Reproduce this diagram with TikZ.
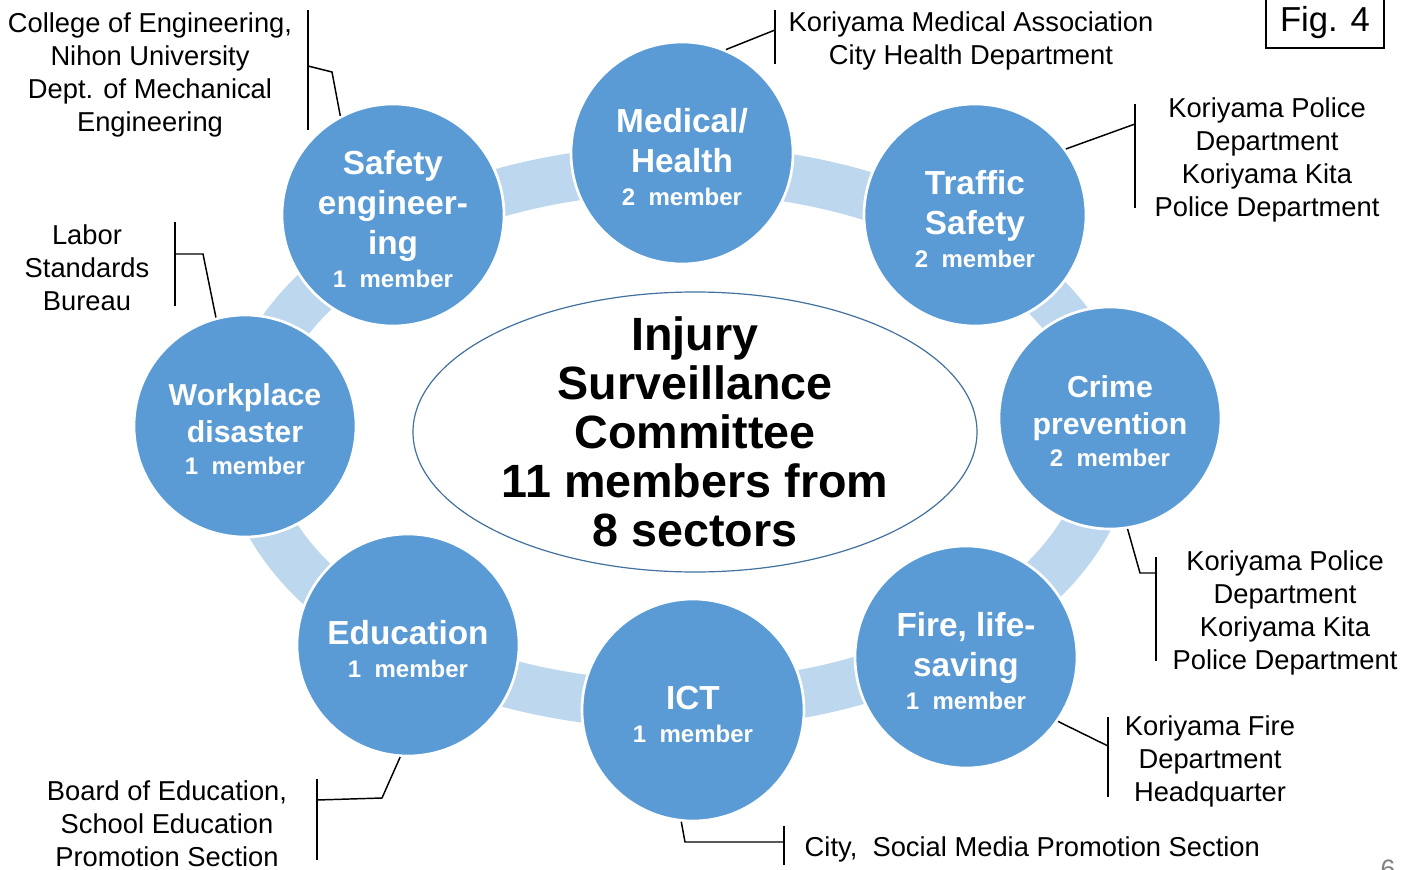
\documentclass[tikz,border=0pt]{standalone}
\usepackage{fontspec}
\setmainfont{Liberation Sans}
\usepackage{tikz}
\usetikzlibrary{shapes.geometric}
\definecolor{sectorBlue}{RGB}{91,155,213}
\definecolor{ringBlue}{RGB}{189,215,238}
\definecolor{rimBlue}{RGB}{65,113,156}
\tikzstyle{sectorStyle}=[shape = circle, minimum size = 166.5pt, inner sep = 0pt, fill = sectorBlue, draw = white, line width = 2pt, text = white, align = center, font = \bfseries\fontsize{25}{30}\selectfont]
\tikzstyle{smallSector}=[sectorStyle, font = \bfseries\fontsize{22.7}{27.5}\selectfont]
\tikzstyle{noteStyle}=[align = center, font = \fontsize{20.5}{24.75}\selectfont]
\tikzstyle{barStyle}=[line width = 1.6pt]
\tikzstyle{leadStyle}=[line width = 1.1pt]
\newcommand{\mem}[1]{{\fontsize{18}{21}\selectfont #1~~member}}

\begin{document}
\begin{tikzpicture}[x = 0.75pt, y = -0.75pt]
\useasboundingbox (0,0) rectangle (1417,870);
\tikzstyle{ringStyle}=[draw = ringBlue, line width = 36pt]
\draw[ringStyle] (678,437) ellipse [x radius = 324pt, y radius = 201pt];
\node[sectorStyle] (v0) at (393,215) {\\[-6pt]Safety\\engineer-\\ing\\[-5pt]\mem{1}};
\node[sectorStyle] (v1) at (682,153) {\\[-6pt]Medical/\\Health\\[-5pt]\mem{2}};
\node[sectorStyle] (v2) at (975,215) {\\[-6pt]Traffic\\Safety\\[-5pt]\mem{2}};
\node[smallSector] (v3) at (1110,418) {\\[-6pt]Crime\\prevention\\[-3pt]\mem{2}};
\node[sectorStyle] (v4) at (966,657) {\\[-6pt]Fire, life-\\saving\\[-5pt]\mem{1}};
\node[sectorStyle] (v5) at (693,710) {\\[-6pt]ICT\\[-5pt]\mem{1}};
\node[sectorStyle] (v6) at (408,645) {\\[-6pt]Education\\[-5pt]\mem{1}};
\node[smallSector] (v7) at (245,426) {\\[-6pt]Workplace\\disaster\\[-3pt]\mem{1}};
\node[shape = ellipse, draw = rimBlue, fill = white, line width = 0.9pt, minimum width = 423pt, minimum height = 210pt, inner sep = -40pt, align = center, font = \bfseries\fontsize{35}{36.75}\selectfont] (v8) at (695,432) {Injury\\Surveillance\\Committee\\11 members from\\8 sectors};
% notes
\node[noteStyle] (t0) at (150,75) {College of Engineering,\\Nihon University\\Dept. of Mechanical\\Engineering};
\node[noteStyle] (t1) at (971,41) {Koriyama Medical Association\\City Health Department};
\node[noteStyle] (t2) at (1267,160) {Koriyama Police\\Department\\Koriyama Kita\\Police Department};
\node[noteStyle] (t3) at (1285,613) {Koriyama Police\\Department\\Koriyama Kita\\Police Department};
\node[noteStyle] (t4) at (1210,761) {Koriyama Fire\\Department\\Headquarter};
\node[noteStyle, anchor = west] (t5) at (800,849) {City,\ \ Social Media Promotion Section};
\node[noteStyle] (t6) at (167,824) {Board of Education,\\School Education\\Promotion Section};
\node[noteStyle] (t7) at (87,268) {Labor\\Standards\\Bureau};
% leaders
\coordinate (a0) at (308,10);  \coordinate (b0) at (308,130);
\coordinate (j0) at (308,66);  \coordinate (k0) at (332,72);
\draw[barStyle] (a0) -- (b0);
\draw[leadStyle] (v0.118) -- (k0) -- (j0);
\coordinate (a1) at (775,10);  \coordinate (b1) at (775,64);
\coordinate (j1) at (775,30);
\draw[barStyle] (a1) -- (b1);
\draw[leadStyle] (v1.67) -- (j1);
\coordinate (a2) at (1135,104); \coordinate (b2) at (1135,208);
\coordinate (j2) at (1135,124);
\draw[barStyle] (a2) -- (b2);
\draw[leadStyle] (v2.36) -- (j2);
\coordinate (a3) at (1156,557); \coordinate (b3) at (1156,661);
\coordinate (j3) at (1156,573); \coordinate (k3) at (1140,573);
\draw[barStyle] (a3) -- (b3);
\draw[leadStyle] (v3.-81) -- (k3) -- (j3);
\coordinate (a4) at (1108,717); \coordinate (b4) at (1108,797);
\coordinate (j4) at (1108,746);
\draw[barStyle] (a4) -- (b4);
\draw[leadStyle] (v4.-35) -- (j4);
\coordinate (a5) at (784,826); \coordinate (b5) at (784,865);
\coordinate (j5) at (784,842); \coordinate (k5) at (685,842);
\draw[barStyle] (a5) -- (b5);
\draw[leadStyle] (v5.-96) -- (k5) -- (j5);
\coordinate (a6) at (317,779); \coordinate (b6) at (317,860);
\coordinate (j6) at (317,800); \coordinate (k6) at (382,798);
\draw[barStyle] (a6) -- (b6);
\draw[leadStyle] (v6.-94) -- (k6) -- (j6);
\coordinate (a7) at (175,222); \coordinate (b7) at (175,306);
\coordinate (j7) at (175,254); \coordinate (k7) at (203,254);
\draw[barStyle] (a7) -- (b7);
\draw[leadStyle] (v7.105) -- (k7) -- (j7);
% figure tag and page number
\node[draw, line width = 1.1pt, minimum width = 88.5pt, minimum height = 37.5pt, inner sep = 0pt, font = \fontsize{26}{30}\selectfont] (fig) at (1325,23) {Fig. 4};
\node[text = gray, font = \fontsize{20}{24}\selectfont] (pg) at (1388,869) {6};
\end{tikzpicture}
\end{document}
